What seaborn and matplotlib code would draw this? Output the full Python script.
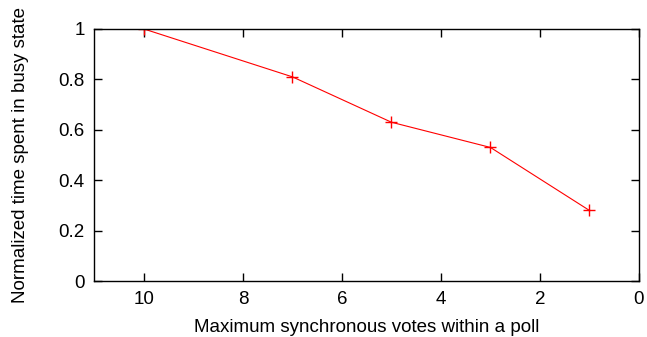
import matplotlib
matplotlib.use("Agg")
import matplotlib.pyplot as plt
import seaborn as sns
import pandas as pd

votes = [10, 7, 5, 3, 1]
busy = [1.0, 0.81, 0.63, 0.53, 0.28]
xticks = [10, 8, 6, 4, 2, 0]
yticks = [0, 0.2, 0.4, 0.6, 0.8, 1]
ytick_labels = ["0", "0.2", "0.4", "0.6", "0.8", "1"]

sns.set_style("ticks")
plt.rcParams['font.family'] = ['Liberation Sans', 'DejaVu Sans']
plt.rcParams['font.size'] = 13.5
plt.rcParams['text.color'] = 'black'
plt.rcParams['axes.labelcolor'] = 'black'
plt.rcParams['xtick.color'] = 'black'
plt.rcParams['ytick.color'] = 'black'

df = pd.DataFrame({"votes": votes, "busy": busy})

fig = plt.figure(figsize=(6.47, 3.37), dpi=100)
ax = fig.add_axes([0.146, 0.166, 0.8416, 0.748])
sns.lineplot(data=df, x="votes", y="busy", ax=ax, color="red", linewidth=0.8,
             marker="+", markersize=8, markeredgewidth=1.0, markeredgecolor="red")
ax.set_xlim(11, 0)
ax.set_ylim(0, 1)
ax.set_xticks(xticks)
ax.set_xticklabels([str(t) for t in xticks])
ax.set_yticks(yticks)
ax.set_yticklabels(ytick_labels)
ax.tick_params(direction="in", length=6, width=1, top=True, right=True, labelsize=13.5,
               pad=7, colors="black")
for s in ax.spines.values():
    s.set_visible(True)
    s.set_linewidth(1.0)
    s.set_color("black")
ax.set_xlabel("Maximum synchronous votes within a poll", fontsize=13.5, color="black")
ax.set_ylabel("Normalized time spent in busy state", fontsize=13.5, color="black")
ax.xaxis.set_label_coords(0.4995, -0.151)
ax.yaxis.set_label_coords(-0.120, 0.5)
fig.savefig("out.png", dpi=100)
